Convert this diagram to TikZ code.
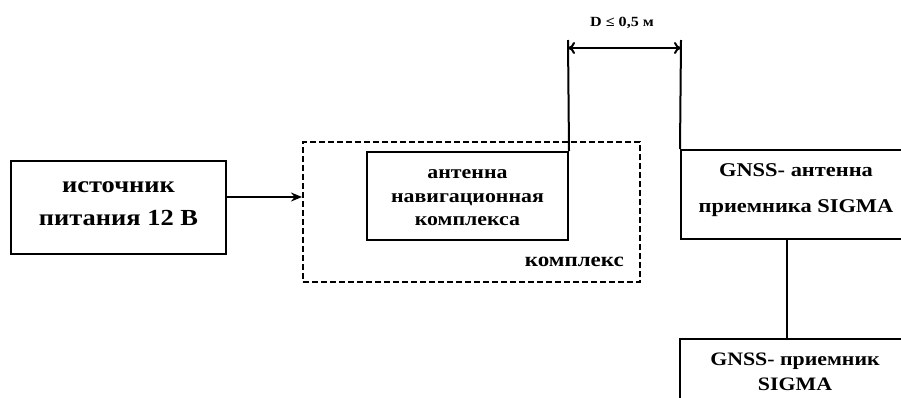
\documentclass[tikz,border=0pt]{standalone}
\usepackage{fontspec}
\setmainfont[FakeStretch=1.15]{Liberation Serif}
\usetikzlibrary{arrows.meta,calc}
\begin{document}
\begin{tikzpicture}[x=1pt,y=-1pt,
  box/.style={draw,line width=2pt,rectangle,inner sep=0pt},
  txt/.style={align=center,inner sep=0pt},
  conn/.style={line width=2pt}]
\useasboundingbox (0,0) rectangle (901,397);
\clip (0,0) rectangle (901,397);
\fill[white] (0,0) rectangle (901,397);
% boxes
\node[box,minimum width=215pt,minimum height=93pt] (src) at (118.5,207.5) {};
\node[txt,font=\bfseries\fontsize{23}{33}\selectfont] (srct) at (118.5,204) {источник\\питания 12 В};
\node[draw,line width=2pt,dash pattern=on 6pt off 3pt,minimum width=337pt,minimum height=140pt,inner sep=0pt] (kompl) at (471.5,212) {};
\node[box,minimum width=201pt,minimum height=88pt] (ant) at (467.5,196) {};
\node[txt,font=\bfseries\fontsize{19}{23.5}\selectfont] (antt) at (467.5,198) {антенна\\навигационная\\комплекса};
\node[txt,font=\bfseries\fontsize{20}{22}\selectfont,anchor=east] (komt) at (624,262) {комплекс};
\node[box,minimum width=229pt,minimum height=89pt] (gant) at (795.5,194.5) {};
\node[txt,font=\bfseries\fontsize{19.5}{36}\selectfont] (gantt) at (796,190) {GNSS- антенна\\приемника SIGMA};
\node[box,minimum width=230pt,minimum height=100pt] (grec) at (795,389) {};
\node[txt,font=\bfseries\fontsize{19}{25}\selectfont] (grect) at (795,372) {GNSS- приемник\\SIGMA};
% connectors
\coordinate (arr) at (0,197);
\draw[conn,-{Stealth[length=11pt,width=9pt]}] (src.east |- arr) -- (kompl.west |- arr);
\coordinate (e1) at (568,40);
\coordinate (e2) at (681,40);
\coordinate (a1) at (568,48);
\coordinate (a2) at (681,48);
\draw[conn] (ant.north east) -- (e1);
\draw[conn] (gant.north west) -- (e2);
\draw[conn,{To[length=7pt,width=12pt]}-{To[length=7pt,width=12pt]}] (a1) -- (a2);
\node[txt,font=\bfseries\fontsize{14}{16}\selectfont] (dim) at (622,23) {D ≤ 0,5 м};
\coordinate (vc) at (787,0);
\draw[conn] (gant.south -| vc) -- (grec.north -| vc);
\end{tikzpicture}
\end{document}
